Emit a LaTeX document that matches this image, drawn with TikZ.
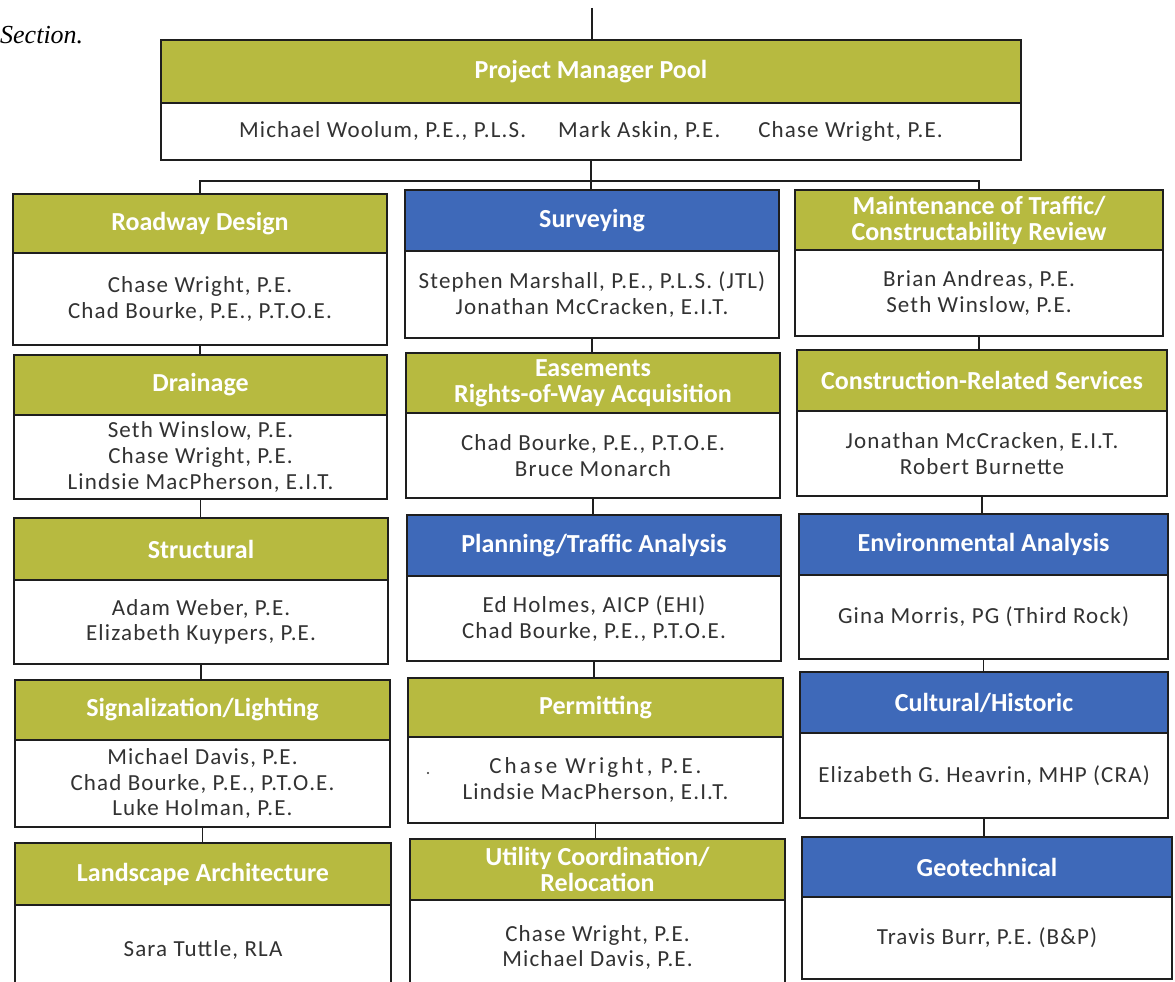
\documentclass[tikz,border=0pt]{standalone}
\usepackage{fontspec}
\setmainfont{Carlito}
\newfontfamily\serifit{Liberation Serif}
\newfontfamily\bodyfont[LetterSpace=5]{Carlito}
\definecolor{hdrolive}{RGB}{183,186,64}
\definecolor{hdrblue}{RGB}{62,105,185}
\definecolor{bodytext}{RGB}{50,50,50}
\definecolor{linecol}{RGB}{30,30,30}
\tikzset{
  hdr/.style={draw=linecol, line width=1.6pt, text=white,
    font=\bfseries\fontsize{26}{26}\selectfont, align=center, inner sep=0pt},
  bdy/.style={draw=linecol, line width=1.6pt, fill=white, text=bodytext,
    font=\bodyfont\fontsize{23}{25.7}\selectfont, align=center, inner sep=0pt},
  conn/.style={line width=1.6pt, draw=linecol}
}
\newcommand\obox[9]{%
  \node[hdr, fill=#7, minimum width={#3-#2}, minimum height={#5-#4}] (#1h)
    at ({(#2+#3)/2},{(#4+#5)/2}) {#8};
  \node[bdy, minimum width={#3-#2}, minimum height={#6-#5}] (#1b)
    at ({(#2+#3)/2},{(#5+#6)/2}) {#9};}
\begin{document}
\begin{tikzpicture}[x=1pt,y=-1pt]
\useasboundingbox (0,0) rectangle (1175,982);
\node[font=\serifit\itshape\fontsize{26}{26}\selectfont, anchor=base west, inner sep=0pt] (sec) at (0,44) {Section.};

% top box
\obox{pm}{161}{1021}{40}{103}{160}{hdrolive}{Project Manager Pool}{Michael Woolum, P.E., P.L.S.\hspace{32pt}Mark Askin, P.E.\hspace{38pt}Chase Wright, P.E.}

% column 1
\obox{rd}{13}{387}{194}{253}{345}{hdrolive}{Roadway Design}{Chase Wright, P.E.\\Chad Bourke, P.E., P.T.O.E.}
\obox{dr}{14}{387}{355}{415}{499}{hdrolive}{Drainage}{Seth Winslow, P.E.\\Chase Wright, P.E.\\Lindsie MacPherson, E.I.T.}
\obox{st}{14}{388}{518}{580}{664}{hdrolive}{Structural}{Adam Weber, P.E.\\Elizabeth Kuypers, P.E.}
\obox{si}{15}{390}{680}{740}{827}{hdrolive}{Signalization/Lighting}{Michael Davis, P.E.\\Chad Bourke, P.E., P.T.O.E.\\Luke Holman, P.E.}
\obox{la}{15}{391}{843}{905}{995}{hdrolive}{Landscape Architecture}{Sara Tuttle, RLA}

% column 2
\obox{su}{405}{779}{190}{251}{338}{hdrblue}{Surveying}{Stephen Marshall, P.E., P.L.S. (JTL)\\Jonathan McCracken, E.I.T.}
\obox{ea}{406}{780}{353}{413}{498}{hdrolive}{Easements\\Rights-of-Way Acquisition}{Chad Bourke, P.E., P.T.O.E.\\Bruce Monarch}
\obox{pl}{407}{781}{515}{576}{661}{hdrblue}{Planning/Traffic Analysis}{Ed Holmes, AICP (EHI)\\Chad Bourke, P.E., P.T.O.E.}
\obox{pe}{408}{783}{678}{737}{823}{hdrolive}{Permitting}{{\addfontfeature{LetterSpace=13}Chase Wright, P.E.}\\Lindsie MacPherson, E.I.T.}
\obox{ut}{410}{785}{839}{900}{995}{hdrolive}{Utility Coordination/\\Relocation}{Chase Wright, P.E.\\Michael Davis, P.E.}

% column 3
\obox{mo}{795}{1163}{190}{250}{336}{hdrolive}{Maintenance of Traffic/\\Constructability Review}{Brian Andreas, P.E.\\Seth Winslow, P.E.}
\obox{co}{797}{1167}{350}{411}{496}{hdrolive}{Construction-Related Services}{Jonathan McCracken, E.I.T.\\Robert Burnette}
\obox{en}{799}{1168}{514}{575}{659}{hdrblue}{Environmental Analysis}{Gina Morris, PG (Third Rock)}
\obox{cu}{800}{1168}{672}{733}{818}{hdrblue}{Cultural/Historic}{Elizabeth G. Heavrin, MHP (CRA)}
\obox{ge}{802}{1172}{837}{897}{979}{hdrblue}{Geotechnical}{Travis Burr, P.E. (B\&P)}

\fill[bodytext] (428,773) circle (1.2);

% connectors
\coordinate (topin) at (592,8);
\coordinate (bus) at (592,181);
\draw[conn] (topin) -- (topin |- pmh.north);
\draw[conn] (pmb.south) -- (pmb.south |- suh.north);
\draw[conn] (rdh.north) -- (rdh.north |- bus) -| (moh.north);

\foreach \a/\b in {rd/dr, dr/st, st/si, si/la, su/ea, ea/pl, pl/pe, pe/ut, mo/co, co/en, en/cu, cu/ge}
  \draw[conn] (\a b.south) -- (\a b.south |- \b h.north);
\end{tikzpicture}
\end{document}
